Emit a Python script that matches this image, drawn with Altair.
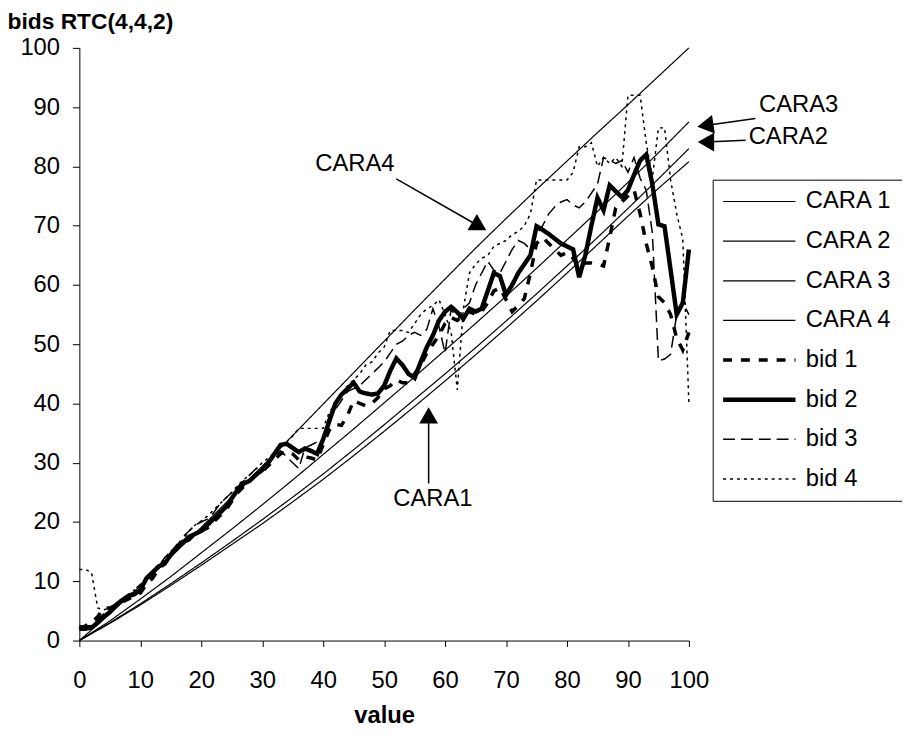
import altair as alt
import pandas as pd

# ---------------- data ----------------
series_names = ["CARA 1", "CARA 2", "CARA 3", "CARA 4", "bid 1", "bid 2", "bid 3", "bid 4"]

cara_x = [0, 5, 10, 15, 20, 25, 30, 35, 40, 45, 50, 55, 60, 65, 70, 75, 80, 85, 90, 95, 100]
cara1 = [0, 2.9, 6.0, 9.3, 12.7, 16.2, 19.7, 23.4, 27.2, 31.2, 35.3, 39.5, 43.8, 48.2, 52.7, 57.3, 62.0, 66.8, 71.6, 76.3, 80.8]
cara2 = [0, 3.0, 6.2, 9.6, 13.1, 16.7, 20.4, 24.2, 28.1, 32.2, 36.4, 40.7, 45.0, 49.4, 53.9, 58.5, 63.2, 68.0, 72.9, 77.9, 83.0]
cara3 = [0, 3.3, 7.0, 10.8, 14.8, 18.8, 22.9, 27.1, 31.4, 35.7, 40.1, 44.5, 49.0, 53.5, 58.1, 62.8, 67.6, 72.4, 77.3, 82.3, 87.5]
cara4 = [0, 4.5, 9.2, 14.1, 19.1, 24.2, 29.4, 34.6, 39.9, 45.2, 50.5, 55.8, 61.0, 66.2, 71.2, 76.1, 80.9, 85.7, 90.4, 95.2, 100]

bid_x = list(range(0, 101))
bid1 = [2.0, 2.5, 3.0, 4.0, 5.5, 5.5, 6.0, 6.5, 7.0, 7.5,
        8.0, 9.5, 10.5, 12.0, 13.0, 14.5, 15.5, 16.5, 17.0, 18.0,
        18.5, 19.0, 20.0, 21.0, 22.0, 23.5, 25.0, 26.0, 27.0, 28.0,
        28.5, 29.5, 30.5, 31.5, 32.0, 31.5, 30.5, 31.0, 30.8, 30.5,
        33.0, 35.5, 36.5, 36.3, 38.0, 40.5, 40.0, 39.6, 40.0, 41.0,
        42.5, 43.0, 44.0, 43.5, 43.5, 45.0, 46.5, 48.5, 50.0, 51.5,
        53.5, 54.5, 54.0, 55.0, 55.5, 55.0, 55.5, 57.0, 59.0, 59.5,
        57.5, 55.5, 56.5, 57.7, 62.0, 67.0, 68.0, 67.0, 66.0, 65.0,
        65.5, 64.5, 63.0, 63.7, 63.7, 63.5, 63.2, 68.0, 73.0, 74.0,
        75.0, 76.0, 72.0, 67.0, 63.0, 58.0, 57.0, 55.0, 51.0, 49.0, 52.0]
bid2 = [2.0, 2.0, 2.2, 3.0, 4.0, 4.8, 6.0, 6.8, 7.5, 7.8,
        8.5, 10.5, 11.5, 12.5, 13.0, 14.5, 15.8, 16.5, 17.5, 18.0,
        18.5, 19.5, 20.5, 21.5, 22.5, 24.0, 25.5, 26.5, 27.0, 28.0,
        28.8, 30.0, 31.5, 33.0, 33.2, 32.5, 31.8, 32.4, 32.0, 31.5,
        34.0, 37.0, 40.0, 41.5, 42.5, 43.5, 42.0, 41.7, 41.5, 41.7,
        43.0, 45.5, 47.6, 46.5, 45.0, 44.3, 47.0, 49.5, 51.5, 54.0,
        55.5, 56.3, 55.4, 54.3, 56.0, 55.5, 56.0, 59.0, 62.0, 61.5,
        58.3, 60.0, 62.0, 63.5, 65.0, 69.9, 69.3, 68.6, 67.8, 67.0,
        66.5, 66.0, 61.3, 65.0, 70.0, 74.7, 72.6, 76.8, 75.8, 74.8,
        76.0, 78.6, 81.0, 82.0, 77.0, 70.2, 69.9, 62.5, 55.0, 57.0, 66.0]
bid3 = [2.5, 2.5, 2.5, 3.5, 4.5, 5.5, 6.0, 7.0, 7.5, 8.5,
        9.5, 10.0, 11.0, 12.5, 14.0, 15.0, 16.0, 17.5, 18.5, 19.5,
        20.0, 20.5, 21.5, 23.0, 24.0, 25.0, 26.0, 27.0, 28.0, 29.0,
        29.5, 30.0, 31.0, 32.0, 31.0, 30.0, 29.0, 32.5, 33.0, 33.5,
        34.0, 38.0, 39.0, 40.5, 42.0, 42.5, 43.0, 44.0, 45.0, 46.0,
        47.0, 48.5, 50.0, 50.5, 51.5, 52.0, 51.5, 52.5, 56.0, 53.0,
        48.5, 56.0, 54.0, 56.0, 57.0, 60.0, 62.0, 64.0, 62.5, 62.0,
        64.0, 66.0, 67.5, 67.0, 66.0, 68.5, 70.0, 72.0, 73.2, 74.0,
        74.4, 73.5, 73.0, 74.0, 75.5, 77.0, 81.5, 81.0, 80.5, 81.0,
        79.0, 81.5, 78.0, 76.0, 68.8, 47.2, 47.5, 48.3, 55.0, 57.0, 55.0]
bid4 = [12.0, 12.0, 11.5, 5.5, 5.2, 5.5, 6.2, 7.0, 7.8, 8.5,
        9.0, 10.0, 11.0, 12.5, 13.8, 15.0, 16.2, 17.0, 18.5, 19.5,
        20.2, 21.0, 22.0, 23.0, 24.0, 25.0, 26.2, 27.2, 28.0, 29.0,
        30.0, 30.8, 31.6, 32.5, 33.5, 34.5, 35.8, 35.8, 35.8, 35.8,
        35.8, 38.5, 40.0, 41.5, 43.0, 44.0, 45.0, 46.5, 47.0, 48.5,
        49.5, 52.3, 52.3, 52.3, 52.0, 53.5, 55.0, 56.0, 56.5, 57.5,
        55.0, 52.0, 42.3, 56.0, 62.0, 63.5, 64.5, 65.0, 66.5, 67.0,
        67.5, 68.5, 69.0, 70.0, 72.0, 77.7, 77.7, 77.7, 77.7, 77.7,
        77.7, 79.0, 83.3, 83.3, 84.0, 80.0, 81.5, 80.5, 81.5, 80.0,
        92.0, 92.0, 92.0, 84.0, 78.0, 86.5, 86.5, 77.7, 72.0, 67.7, 40.0]

# annotations (labels, arrows)
ann_text = ["CARA4", "CARA1", "CARA3", "CARA2"]
ann_x = [45.2, 58.0, 118.0, 116.3]
ann_y = [80.4, 23.9, 90.3, 84.9]
arrow_x1 = [52.0, 57.3, 110.9, 109.3]
arrow_y1 = [77.9, 26.5, 88.1, 84.4]
arrow_x2 = [65.6, 57.3, 102.7, 102.8]
arrow_y2 = [69.9, 38.0, 86.9, 84.1]
arrow_angle = [30, 270, 171.5, 180]

# styles per series
dash_range = [[1, 0], [1, 0], [1, 0], [1, 0], [9, 9], [1, 0], [12, 6], [3, 4]]
width_range = [1.2, 1.2, 1.2, 1.2, 3.5, 4.5, 1.5, 1.5]

# ---------------- tables ----------------
width_of = dict(zip(series_names, width_range))
rows = []
for name, xs, ys in [("CARA 1", cara_x, cara1), ("CARA 2", cara_x, cara2),
                     ("CARA 3", cara_x, cara3), ("CARA 4", cara_x, cara4),
                     ("bid 1", bid_x, bid1), ("bid 2", bid_x, bid2),
                     ("bid 3", bid_x, bid3), ("bid 4", bid_x, bid4)]:
    for i, (xv, yv) in enumerate(zip(xs, ys)):
        rows.append({"series": name, "value": xv, "bid": yv, "idx": i, "w": width_of[name]})
df = pd.DataFrame(rows)

ann_df = pd.DataFrame({"label": ann_text, "tx": ann_x, "ty": ann_y,
                       "x1": arrow_x1, "y1": arrow_y1, "x2": arrow_x2, "y2": arrow_y2,
                       "ang": arrow_angle})

FONT = "Liberation Sans"
xscale = alt.Scale(domain=[0, 100], nice=False, zero=False)
yscale = alt.Scale(domain=[0, 100], nice=False, zero=False)

width_expr = " : ".join(f"datum.value === '{n}' ? {w}" for n, w in zip(series_names, width_range)) + " : 1"

legend = alt.Legend(title=None, orient="none", legendX=639, legendY=133,
                    strokeColor="black", fillColor="white", padding=10,
                    symbolType="M-4,0H4", symbolSize=333, symbolOffset=25,
                    symbolStrokeColor="black",
                    symbolStrokeWidth=alt.ExprRef(expr=width_expr),
                    labelFont=FONT, labelFontSize=24, labelColor="black",
                    labelOffset=35, rowPadding=16)

lines = alt.Chart(df).mark_line(color="black").encode(
    x=alt.X("value:Q", scale=xscale,
            axis=alt.Axis(values=list(range(0, 101, 10)), tickSize=6, labelPadding=22,
                          labelFlush=False,
                          title="value", titleY=83, titleBaseline="alphabetic")),
    y=alt.Y("bid:Q", scale=yscale,
            axis=alt.Axis(values=list(range(0, 101, 10)), tickSize=7, labelPadding=13,
                          labelFlush=False,
                          title="bids RTC(4,4,2)", titleAngle=0, titleAlign="left",
                          titleBaseline="alphabetic", titleX=-73, titleY=-20,
                          titleFontSize=23)),
    detail="series:N",
    strokeDash=alt.StrokeDash("series:N", scale=alt.Scale(domain=series_names, range=dash_range),
                              legend=legend),
    strokeWidth=alt.StrokeWidth("w:Q", scale=None, legend=None),
    order=alt.Order("idx:Q"),
)

rules = alt.Chart(ann_df).mark_rule(color="black", strokeWidth=1.5).encode(
    x=alt.X("x1:Q", scale=xscale), y=alt.Y("y1:Q", scale=yscale),
    x2="x2:Q", y2="y2:Q")

heads = alt.Chart(ann_df).mark_point(shape="triangle-right", filled=True, size=360,
                                     color="black", opacity=1).encode(
    x=alt.X("x2:Q", scale=xscale), y=alt.Y("y2:Q", scale=yscale),
    angle=alt.Angle("ang:Q", scale=None))

texts = alt.Chart(ann_df).mark_text(font=FONT, fontSize=24, color="black",
                                    align="center", baseline="middle").encode(
    x=alt.X("tx:Q", scale=xscale), y=alt.Y("ty:Q", scale=yscale), text="label:N")

chart = alt.layer(lines, rules, heads, texts).properties(
    width=615, height=598,
    autosize=alt.AutoSizeParams(type="none"),
    padding={"left": 72, "top": 37, "right": 215, "bottom": 85},
).configure_view(stroke=None).configure_axis(
    grid=False, domainColor="black", tickColor="black", labelColor="black",
    titleColor="black", labelFont=FONT, titleFont=FONT, labelFontSize=24,
    titleFontSize=24, titleFontWeight="bold", domainWidth=1, tickWidth=1,
)

chart.save("out.html", embed_options={"renderer": "svg", "actions": False})
